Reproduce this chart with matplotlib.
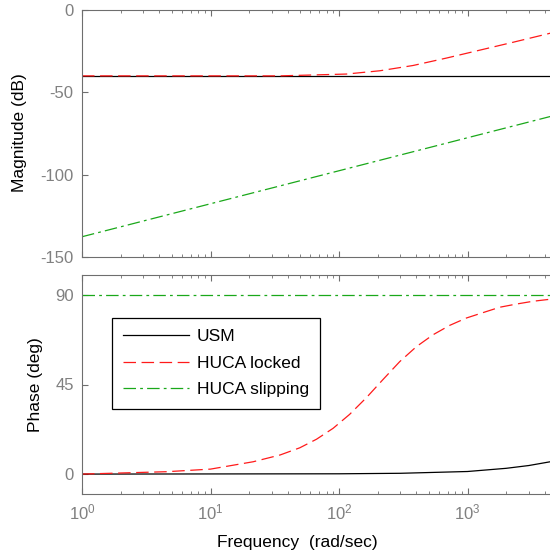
import matplotlib
matplotlib.use('Agg')
import matplotlib.pyplot as plt

plt.rcParams['font.family'] = ['Liberation Sans', 'DejaVu Sans']
plt.rcParams['lines.scale_dashes'] = False
plt.rcParams['axes.unicode_minus'] = False

# values (frequency in rad/sec)
usm_mag_freq = [1, 4500]
usm_mag = [-40, -40]
locked_mag_freq = [1, 10, 34.6, 114, 208, 377, 685, 1244, 2260, 4100, 4500]
locked_mag = [-40, -40, -40, -38.9, -36.9, -33.7, -29.2, -24.4, -19.6, -14.7, -13.9]
slip_mag_freq = [1, 4500]
slip_mag = [-137.7, -64.5]

usm_ph_freq = [1, 100, 300, 1000, 2000, 3000, 4500]
usm_ph = [0, 0.15, 0.4, 1.3, 2.9, 4.3, 6.3]
locked_ph_freq = [1, 4.56, 10, 21.5, 34.8, 49.5, 66.8, 90, 121, 164, 220, 297,
                  400, 540, 727, 981, 1320, 1780, 2400, 3230, 4500]
locked_ph = [0, 1.2, 2.5, 6.2, 9.6, 13.2, 17.5, 23.0, 30.0, 38.5, 47.5, 56.5,
             64.0, 70.0, 74.7, 78.4, 81.1, 83.8, 85.4, 86.8, 87.9]
slip_ph_freq = [1, 4500]
slip_ph = [90, 90]

labels = ['USM', 'HUCA locked', 'HUCA slipping']

red = '#ff1a1a'
green = '#1aa81a'
grey_txt = '#808080'
grey_ax = '#6e6e6e'

fig = plt.figure(figsize=(5.5, 5.59), dpi=100)
W, H = 550, 559
left = 82 / W
width = 514 / W  # 4 decades, runs off the right edge like the reference
ax1 = fig.add_axes([left, 1 - 257 / H, width, (257 - 10) / H])
ax2 = fig.add_axes([left, 1 - 494 / H, width, (494 - 275) / H])

for ax in (ax1, ax2):
    ax.set_xscale('log')
    ax.set_xlim(1, 1e4)
    ax.set_xticks([1, 10, 100, 1000])
    ax.tick_params(which='both', direction='in', top=True, right=False,
                   colors=grey_ax, labelcolor=grey_txt, labelsize=12)
    ax.tick_params(which='major', length=4, pad=6)
    ax.tick_params(which='minor', length=2.5)
    for s in ax.spines.values():
        s.set_color(grey_ax)
    ax.spines['right'].set_visible(False)

ax1.plot(usm_mag_freq, usm_mag, color='black', lw=0.9)
ax1.plot(locked_mag_freq, locked_mag, color=red, lw=0.9, dashes=(9, 4))
ax1.plot(slip_mag_freq, slip_mag, color=green, lw=0.9, dashes=(9, 3, 2, 3))
ax1.set_ylim(-150, 0)
ax1.set_yticks([0, -50, -100, -150])
ax1.tick_params(labelbottom=False)
ax1.set_ylabel('Magnitude (dB)', fontsize=12.5)
ax1.yaxis.set_label_coords(27 / W, 1 - 133 / H, transform=fig.transFigure)

l1, = ax2.plot(usm_ph_freq, usm_ph, color='black', lw=0.9)
l2, = ax2.plot(locked_ph_freq, locked_ph, color=red, lw=0.9, dashes=(9, 4))
l3, = ax2.plot(slip_ph_freq, slip_ph, color=green, lw=0.9, dashes=(9, 3, 2, 3))
ax2.set_ylim(-10, 100)
ax2.set_yticks([0, 45, 90])
ax2.set_ylabel('Phase (deg)', fontsize=12.5)
ax2.yaxis.set_label_coords(43 / W, 1 - 385 / H, transform=fig.transFigure)
ax2.set_xlabel('Frequency  (rad/sec)', fontsize=12.5)
ax2.xaxis.set_label_coords(297 / W, 1 - 535 / H, transform=fig.transFigure)

leg = ax2.legend([l1, l2, l3], labels, loc='upper left',
                 bbox_to_anchor=(112 / W, 1 - 318 / H),
                 bbox_transform=fig.transFigure, fontsize=12.5,
                 fancybox=False, framealpha=1, handlelength=3.8,
                 borderaxespad=0, borderpad=0.65, labelspacing=0.65,
                 handletextpad=0.45)
leg.get_frame().set_edgecolor('black')
leg.get_frame().set_linewidth(0.9)

plt.savefig('out.png', dpi=100)
